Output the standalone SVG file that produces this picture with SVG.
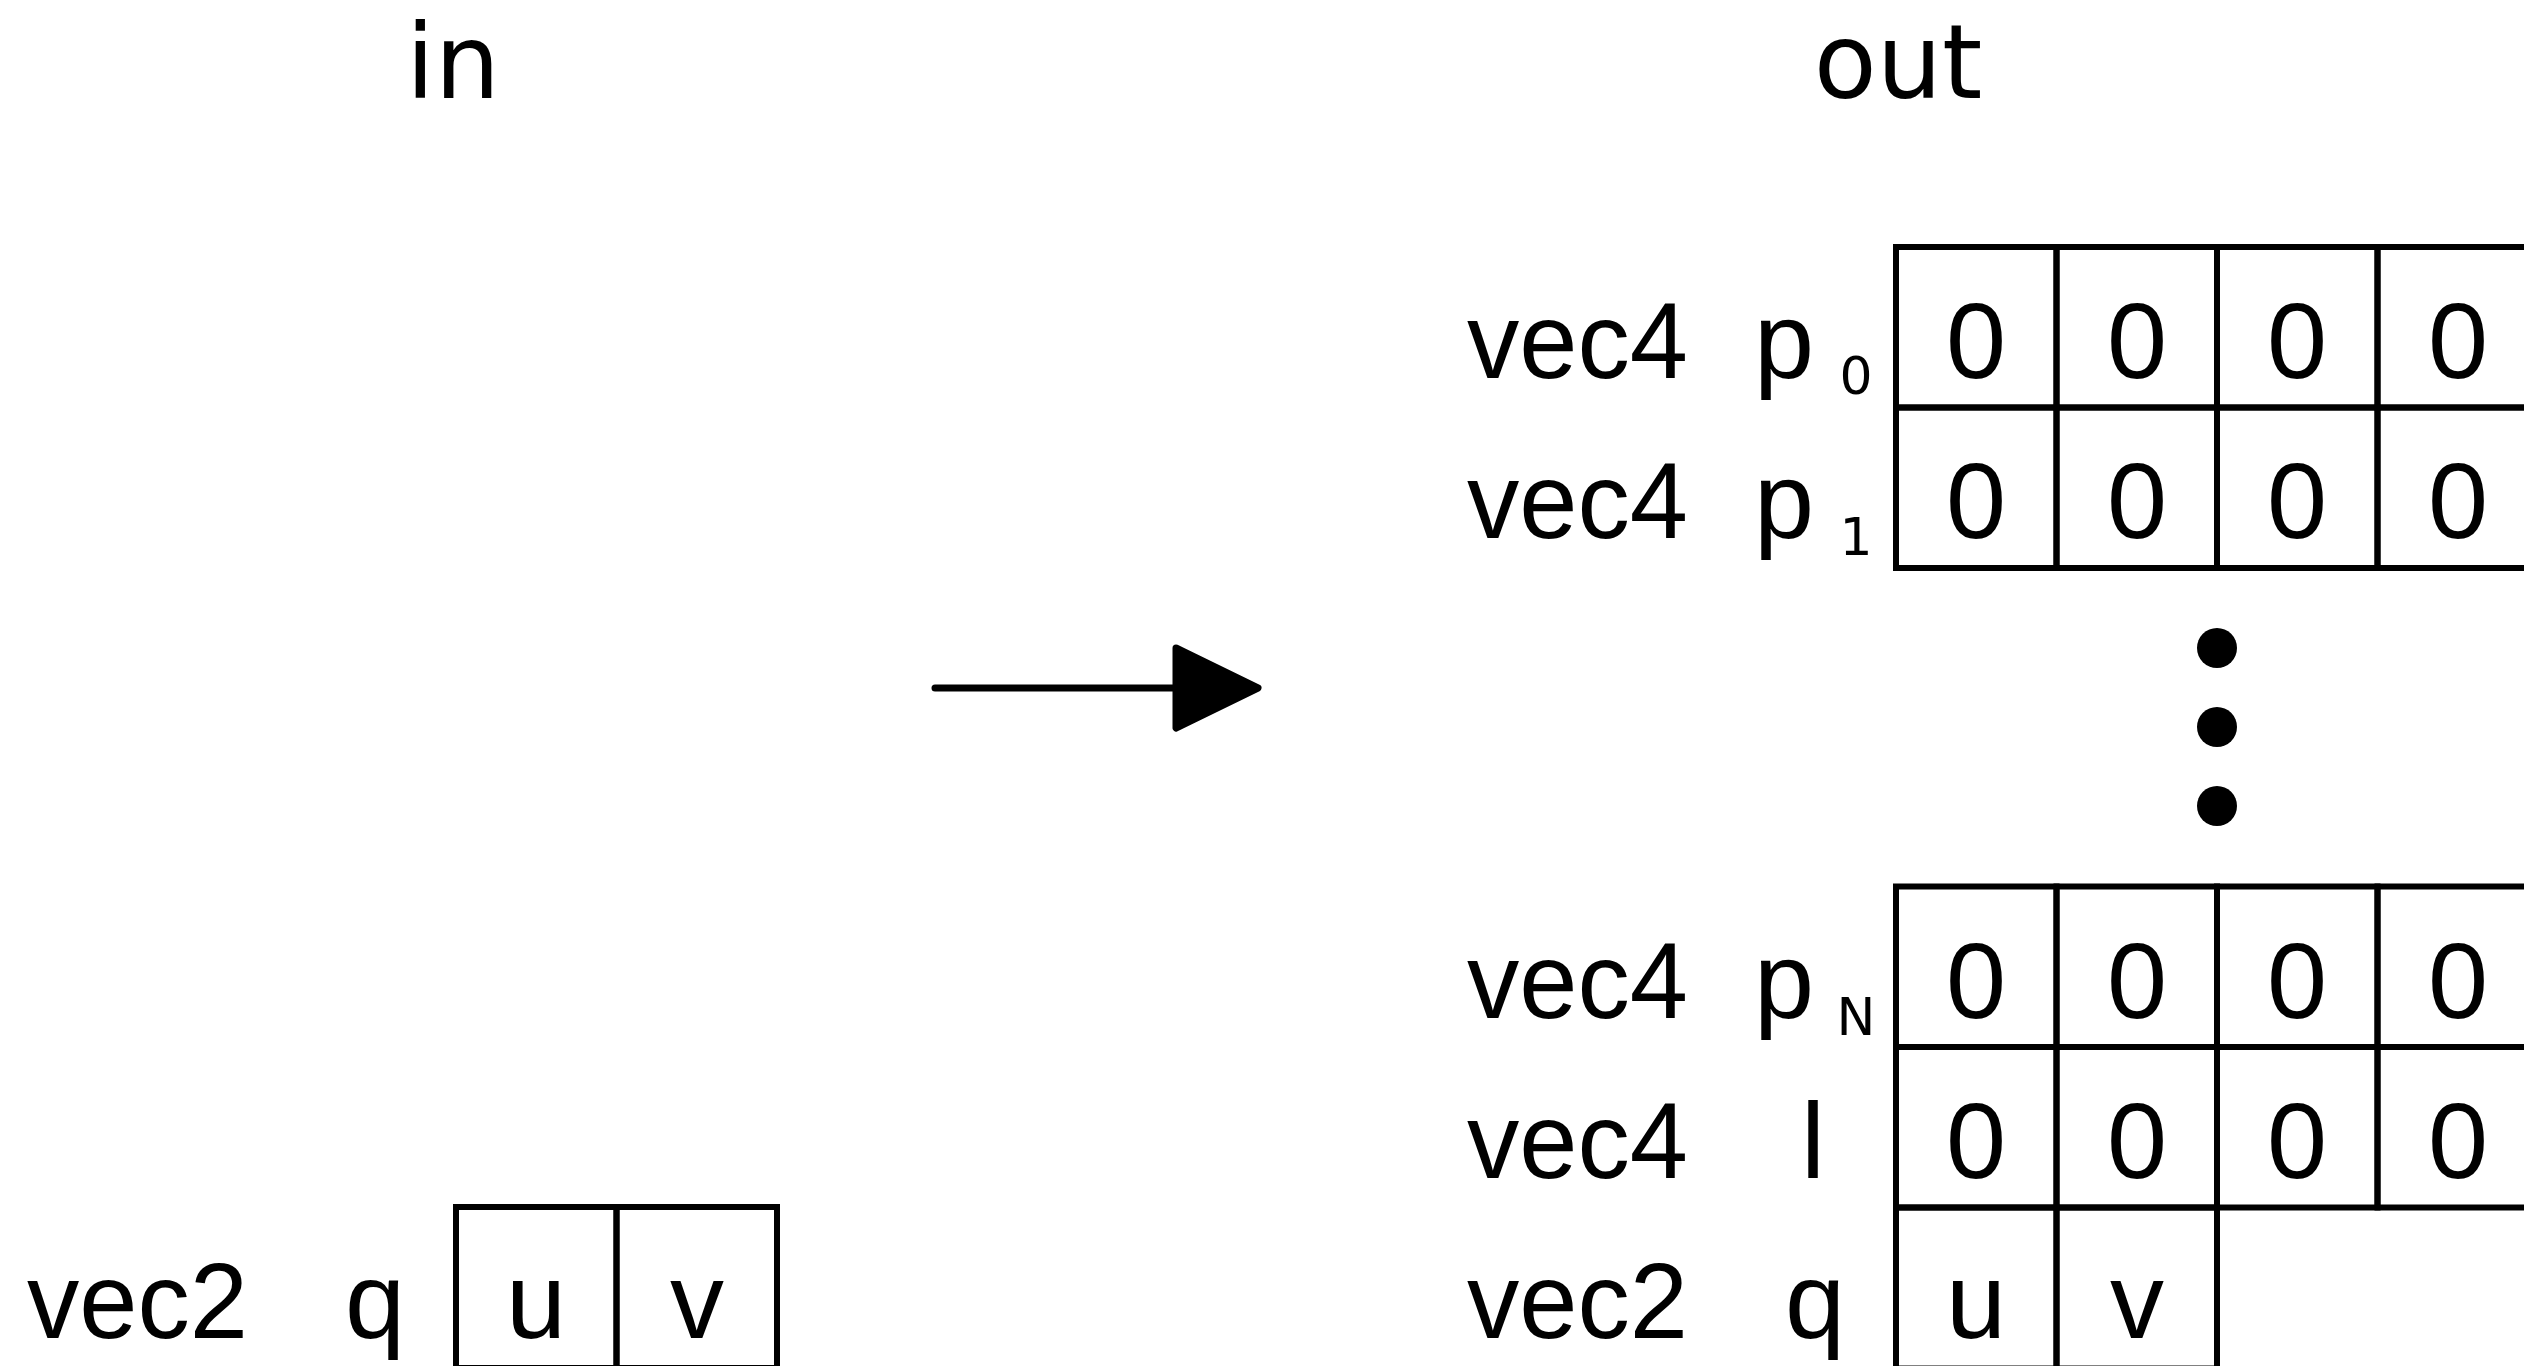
<svg xmlns="http://www.w3.org/2000/svg" width="2524" height="1366" viewBox="0 0 2524 1366">
<style>
.cell{fill:none;stroke:#000;stroke-width:6;stroke-linejoin:miter}
.hdr{font-family:"DejaVu Sans","Liberation Sans",sans-serif;font-size:103px;text-anchor:middle;fill:#000}
.lbl{font-family:"Liberation Sans","DejaVu Sans",sans-serif;font-size:108px;fill:#000}
.val{font-family:"Liberation Sans","DejaVu Sans",sans-serif;font-size:108px;text-anchor:middle;fill:#000}
.mid{text-anchor:middle}
.sub{font-family:"DejaVu Sans","Liberation Sans",sans-serif;font-size:52px;text-anchor:middle;fill:#000}
.dot{fill:#000}
</style>
<rect width="2524" height="1366" fill="#fff"/>

<g id="header-in"><text class="hdr" x="453" y="98">in</text></g>
<g id="header-out"><text class="hdr" x="1898" y="98">out</text></g>

<g id="in-q">
<text class="lbl" x="27" y="1338" textLength="221" lengthAdjust="spacingAndGlyphs">vec2</text>
<text class="lbl mid" x="375" y="1338">q</text>
<rect class="cell" x="456" y="1207" width="160.5" height="161"/>
<rect class="cell" x="616.5" y="1207" width="160.5" height="161"/>
<text class="val" x="536" y="1338">u</text>
<text class="val" x="697" y="1338">v</text>
</g>

<g id="out-p0">
<text class="lbl" x="1467" y="378" textLength="221" lengthAdjust="spacingAndGlyphs">vec4</text>
<text class="lbl mid" x="1784" y="378">p</text>
<text class="sub" x="1856" y="394">0</text>
<rect class="cell" x="1896" y="247" width="160.5" height="160.5"/>
<rect class="cell" x="2056.5" y="247" width="160.5" height="160.5"/>
<rect class="cell" x="2217" y="247" width="160.5" height="160.5"/>
<rect class="cell" x="2377.5" y="247" width="160.5" height="160.5"/>
<text class="val" x="1976" y="378">0</text>
<text class="val" x="2137" y="378">0</text>
<text class="val" x="2297" y="378">0</text>
<text class="val" x="2458" y="378">0</text>
</g>

<g id="out-p1">
<text class="lbl" x="1467" y="538" textLength="221" lengthAdjust="spacingAndGlyphs">vec4</text>
<text class="lbl mid" x="1784" y="538">p</text>
<text class="sub" x="1856" y="555">1</text>
<rect class="cell" x="1896" y="407.5" width="160.5" height="160.5"/>
<rect class="cell" x="2056.5" y="407.5" width="160.5" height="160.5"/>
<rect class="cell" x="2217" y="407.5" width="160.5" height="160.5"/>
<rect class="cell" x="2377.5" y="407.5" width="160.5" height="160.5"/>
<text class="val" x="1976" y="538">0</text>
<text class="val" x="2137" y="538">0</text>
<text class="val" x="2297" y="538">0</text>
<text class="val" x="2458" y="538">0</text>
</g>

<g id="ellipsis">
<circle class="dot" cx="2217" cy="648" r="20"/>
<circle class="dot" cx="2217" cy="727" r="20"/>
<circle class="dot" cx="2217" cy="806" r="20"/>
</g>

<g id="out-pN">
<text class="lbl" x="1467" y="1018" textLength="221" lengthAdjust="spacingAndGlyphs">vec4</text>
<text class="lbl mid" x="1784" y="1018">p</text>
<text class="sub" x="1856" y="1035">N</text>
<rect class="cell" x="1896" y="886.5" width="160.5" height="160.5"/>
<rect class="cell" x="2056.5" y="886.5" width="160.5" height="160.5"/>
<rect class="cell" x="2217" y="886.5" width="160.5" height="160.5"/>
<rect class="cell" x="2377.5" y="886.5" width="160.5" height="160.5"/>
<text class="val" x="1976" y="1018">0</text>
<text class="val" x="2137" y="1018">0</text>
<text class="val" x="2297" y="1018">0</text>
<text class="val" x="2458" y="1018">0</text>
</g>

<g id="out-l">
<text class="lbl" x="1467" y="1178" textLength="221" lengthAdjust="spacingAndGlyphs">vec4</text>
<text class="lbl mid" x="1813" y="1178">l</text>
<rect class="cell" x="1896" y="1047" width="160.5" height="160.5"/>
<rect class="cell" x="2056.5" y="1047" width="160.5" height="160.5"/>
<rect class="cell" x="2217" y="1047" width="160.5" height="160.5"/>
<rect class="cell" x="2377.5" y="1047" width="160.5" height="160.5"/>
<text class="val" x="1976" y="1178">0</text>
<text class="val" x="2137" y="1178">0</text>
<text class="val" x="2297" y="1178">0</text>
<text class="val" x="2458" y="1178">0</text>
</g>

<g id="out-q">
<text class="lbl" x="1467" y="1338" textLength="221" lengthAdjust="spacingAndGlyphs">vec2</text>
<text class="lbl mid" x="1815" y="1338">q</text>
<rect class="cell" x="1896" y="1207.5" width="160.5" height="161"/>
<rect class="cell" x="2056.5" y="1207.5" width="160.5" height="161"/>
<text class="val" x="1976" y="1338">u</text>
<text class="val" x="2137" y="1338">v</text>
</g>

<g id="connectors">
<line x1="935" y1="688" x2="1176" y2="688" stroke="#000" stroke-width="7" stroke-linecap="round"/>
<polygon points="1176,648 1258,688 1176,728" fill="#000" stroke="#000" stroke-width="7" stroke-linejoin="round"/>
</g>
</svg>
